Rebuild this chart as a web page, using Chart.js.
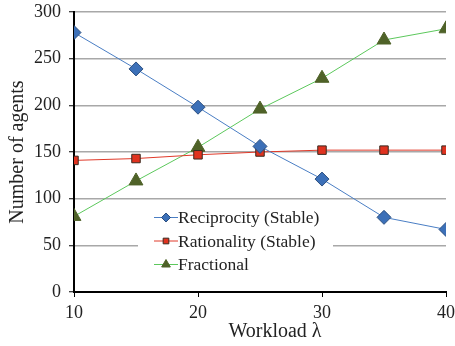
<!DOCTYPE html>
<html>
<head>
<meta charset="utf-8">
<script src="https://cdn.jsdelivr.net/npm/chart.js@4"></script>
<style>
  html, body { margin: 0; padding: 0; background: #fff; }
  #c { display: block; }
</style>
</head>
<body>
<canvas id="c" width="455" height="346"></canvas>
<script>
// workload values on x axis
var workload = [10, 15, 20, 25, 30, 35, 40];
var reciprocity = [278, 239, 198, 156, 121, 80, 67];
var rationality = [141, 143, 147, 150, 152, 152, 152];
var fractional = [81, 119, 155, 196, 229, 270, 282];
var yTicks = [0, 50, 100, 150, 200, 250, 300];
var xTicks = [10, 20, 30, 40];

var serif = '"Liberation Serif", "DejaVu Serif", serif';

function pts(vals) {
    return vals.map(function (v, i) { return { x: workload[i], y: v }; });
}

// legend drawn inside the plot, on a white box over the grid
var boxLegend = {
    id: 'boxLegend',
    beforeDatasetsDraw: function (chart) {
        var ctx = chart.ctx;
        var sizes = [4.5, 4, 5];
        ctx.save();
        ctx.fillStyle = '#fff';
        ctx.fillRect(138, 200, 195, 80);
        ctx.font = '17.5px ' + serif;
        ctx.textBaseline = 'middle';
        chart.data.datasets.forEach(function (ds, i) {
            var y = 217.5 + i * 23.5;
            ctx.strokeStyle = ds.borderColor;
            ctx.lineWidth = 1;
            ctx.beginPath();
            ctx.moveTo(154, y);
            ctx.lineTo(178, y);
            ctx.stroke();
            ctx.fillStyle = ds.pointBackgroundColor;
            ctx.strokeStyle = ds.pointBorderColor;
            Chart.helpers.drawPoint(ctx, {
                pointStyle: ds.pointStyle,
                radius: sizes[i],
                rotation: 0,
                borderWidth: 1
            }, 166, y);
            ctx.fillStyle = '#222';
            ctx.fillText(ds.label, 178, y + 1);
        });
        ctx.restore();
    }
};

new Chart(document.getElementById('c').getContext('2d'), {
    type: 'line',
    data: {
        datasets: [{
            label: 'Reciprocity (Stable)',
            data: pts(reciprocity),
            borderColor: '#4a7ec4',
            borderWidth: 1,
            pointStyle: 'rectRot',
            pointRadius: 7,
            pointBackgroundColor: '#3c70b8',
            pointBorderColor: '#2c4f80',
            pointBorderWidth: 1
        }, {
            label: 'Rationality (Stable)',
            data: pts(rationality),
            borderColor: '#e03a2a',
            borderWidth: 1,
            pointStyle: 'rect',
            pointRadius: 6,
            pointBackgroundColor: '#e0321f',
            pointBorderColor: '#3a2a20',
            pointBorderWidth: 1
        }, {
            label: 'Fractional',
            data: pts(fractional),
            borderColor: '#5cc85c',
            borderWidth: 1,
            pointStyle: 'triangle',
            pointRadius: 8,
            pointBackgroundColor: '#4f6228',
            pointBorderColor: '#4f6228',
            pointBorderWidth: 1
        }]
    },
    options: {
        responsive: false,
        animation: false,
        layout: { padding: { top: 12, right: 6, left: 0, bottom: 0 } },
        plugins: { legend: { display: false }, tooltip: { enabled: false } },
        scales: {
            x: {
                type: 'linear',
                min: 10, max: 40,
                afterBuildTicks: function (s) { s.ticks = xTicks.map(function (v) { return { value: v }; }); },
                afterFit: function (s) { s.height = 54; s.paddingLeft = 0; s.paddingRight = 0; },
                grid: { drawOnChartArea: false, drawTicks: true, tickLength: 5, color: '#000', lineWidth: 1 },
                border: { color: '#000', width: 2 },
                ticks: { color: '#222', font: { family: serif, size: 18 }, padding: 5, maxRotation: 0 },
                title: { display: true, text: '\u2002\u2002\u2002Workload λ', color: '#222', font: { family: serif, size: 20 }, padding: { top: 0, bottom: 2 } }
            },
            y: {
                min: 0, max: 300,
                afterBuildTicks: function (s) { s.ticks = yTicks.map(function (v) { return { value: v }; }); },
                afterFit: function (s) { s.width = 74; s.paddingTop = 0; s.paddingBottom = 0; },
                grid: { color: '#a8a8a8', lineWidth: 1.5, tickColor: '#000', tickLength: 5, tickWidth: 1 },
                border: { color: '#000', width: 2 },
                ticks: { color: '#222', font: { family: serif, size: 18 }, padding: 8 },
                title: { display: true, text: 'Number of agents', color: '#222', font: { family: serif, size: 20 }, padding: { top: 6, bottom: 0 } }
            }
        }
    },
    plugins: [boxLegend]
});
</script>
</body>
</html>
